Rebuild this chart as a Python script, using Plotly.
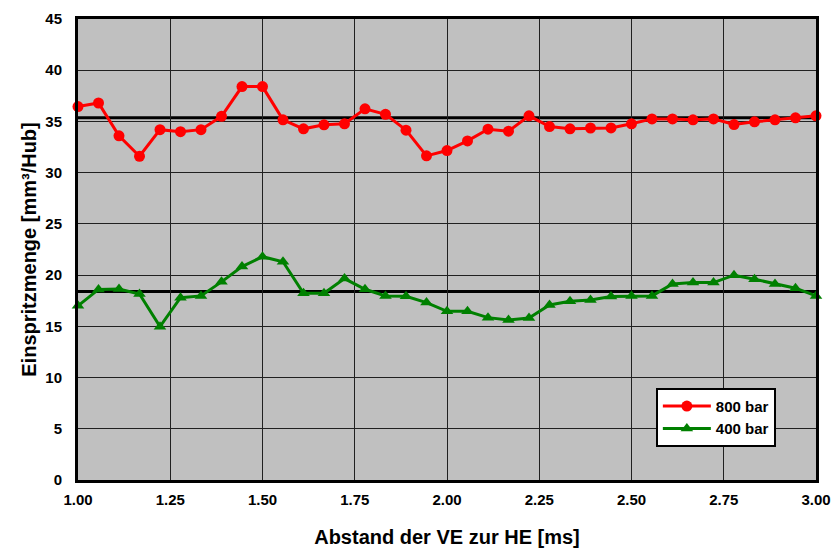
import plotly.graph_objects as go

# Abstand der Voreinspritzung zur Haupteinspritzung [ms]
abstand = [1.0 + i / 18 for i in range(37)]

menge_800 = [36.45, 36.8, 33.6, 31.6, 34.2, 34.0, 34.2, 35.5, 38.4, 38.4,
             35.16, 34.28, 34.67, 34.77, 36.23, 35.7, 34.15, 31.64, 32.16, 33.1,
             34.24, 34.05, 35.55, 34.5, 34.28, 34.36, 34.37, 34.77, 35.25, 35.25,
             35.16, 35.25, 34.7, 34.96, 35.16, 35.35, 35.55]

menge_400 = [17.0, 18.6, 18.65, 18.16, 14.97, 17.8, 17.97, 19.34, 20.83, 21.8,
             21.3, 18.23, 18.23, 19.66, 18.62, 17.97, 17.94, 17.32, 16.47, 16.47,
             15.85, 15.62, 15.82, 17.09, 17.45, 17.58, 17.9, 17.97, 17.97, 19.14,
             19.27, 19.27, 19.99, 19.6, 19.14, 18.72, 17.97]

mittel_800 = 35.35
mittel_400 = 18.4

x_ticks = [1.0, 1.25, 1.5, 1.75, 2.0, 2.25, 2.5, 2.75, 3.0]
y_ticks = list(range(0, 50, 5))

fig = go.Figure()

fig.add_trace(go.Scatter(
    x=abstand, y=menge_800, name="800 bar", mode="lines+markers",
    line=dict(color="#FF0000", width=3),
    marker=dict(symbol="circle", size=11, color="#FF0000"),
    cliponaxis=False,
))
fig.add_trace(go.Scatter(
    x=abstand, y=menge_400, name="400 bar", mode="lines+markers",
    line=dict(color="#008000", width=3),
    marker=dict(symbol="triangle-up", size=11, color="#008000"),
    cliponaxis=False,
))

# Mittelwertlinien
for m in (mittel_800, mittel_400):
    fig.add_shape(type="line", xref="paper", x0=0, x1=1, yref="y", y0=m, y1=m,
                  line=dict(color="black", width=3), layer="below")

font = dict(family="Liberation Sans, Arial, sans-serif", color="black")
tick_font = dict(**font, size=15, weight="bold")
title_font = dict(**font, size=20, weight="bold")

fig.update_layout(
    width=833, height=548,
    margin=dict(l=78, r=17, t=19, b=68),
    paper_bgcolor="white",
    plot_bgcolor="#C0C0C0",
    font=dict(**font, size=15),
    showlegend=True,
    legend=dict(
        x=0.783, y=0.2, xanchor="left", yanchor="top",
        bgcolor="white", bordercolor="black", borderwidth=2,
        font=dict(**font, size=15, weight="bold"),
        itemwidth=48, tracegroupgap=0,
    ),
    xaxis=dict(
        range=[1.0, 3.0], tickvals=x_ticks,
        ticktext=[f"{v:.2f}" for v in x_ticks],
        showgrid=True, gridcolor="#202020", gridwidth=1,
        showline=True, linecolor="black", linewidth=3, mirror=True,
        ticks="", ticklabelstandoff=4,
        tickfont=tick_font,
        zeroline=False, automargin=False,
        title=dict(text="Abstand der VE zur HE [ms]", font=title_font, standoff=24),
    ),
    yaxis=dict(
        range=[0, 45], tickvals=y_ticks,
        showgrid=True, gridcolor="#202020", gridwidth=1,
        showline=True, linecolor="black", linewidth=3, mirror=True,
        ticks="", ticklabelstandoff=10,
        tickfont=tick_font,
        zeroline=False, automargin=False,
        title=dict(text="Einspritzmenge [mm³/Hub]", font=title_font, standoff=4),
    ),
)

fig.write_html("out.html")
